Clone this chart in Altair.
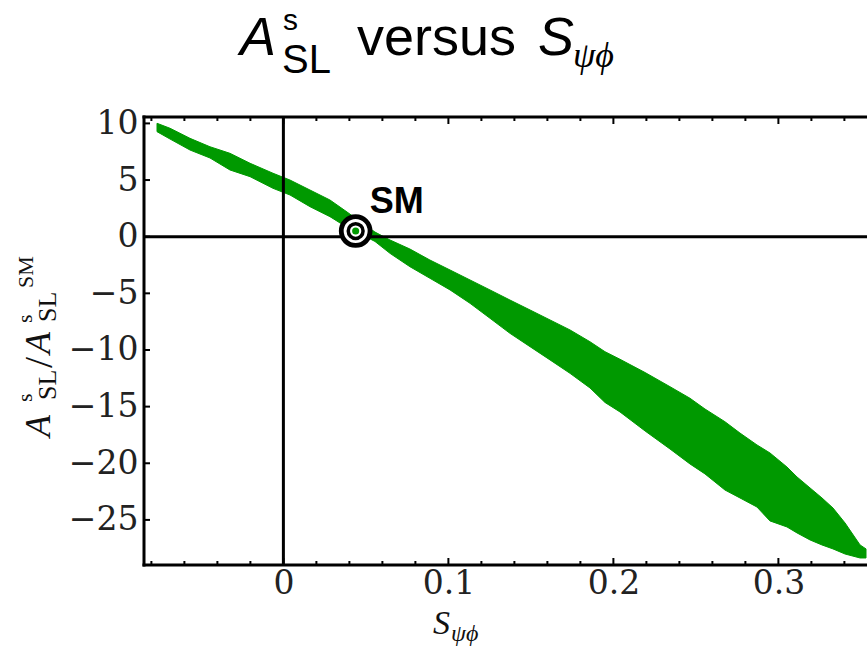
import altair as alt
import pandas as pd

# ---- data ----
band_x = [-0.0766, -0.0687, -0.0566, -0.0445, -0.0324, -0.0202, -0.0063, 0.0040, 0.0161, 0.0282,
          0.0373, 0.0555, 0.0646, 0.0767, 0.0888, 0.1010, 0.1131, 0.1252, 0.1373, 0.1495,
          0.1616, 0.1737, 0.1858, 0.1949, 0.2040, 0.2192, 0.2343, 0.2464, 0.2555, 0.2676,
          0.2767, 0.2870, 0.2949, 0.3052, 0.3113, 0.3192, 0.3264, 0.3331, 0.3404, 0.3495, 0.3531]
band_upper = [10.01, 9.57, 8.68, 7.94, 7.36, 6.48, 5.60, 5.00, 4.12, 3.24,
              2.31, 0.41, -0.29, -1.09, -2.06, -2.94, -3.82, -4.70, -5.59, -6.47,
              -7.35, -8.23, -9.27, -10.15, -10.82, -11.99, -13.24, -14.26, -15.21, -16.33,
              -17.33, -18.38, -19.09, -20.33, -21.21, -22.18, -23.06, -23.95, -25.27, -27.21, -27.56]
band_lower = [9.27, 8.62, 7.65, 6.95, 5.89, 5.30, 4.27, 3.68, 2.65, 1.77,
              0.94, -0.42, -1.47, -2.65, -3.67, -4.70, -5.88, -7.20, -8.53, -9.71,
              -10.88, -12.06, -13.35, -14.63, -15.47, -17.15, -18.74, -20.06, -20.94, -22.36,
              -23.06, -23.86, -25.09, -25.62, -26.15, -26.77, -27.21, -27.56, -28.01, -28.36, -28.36]

sm_x = [0.0438]
sm_y = [0.5]
sm_label = ["SM"]

x_major = [0, 0.1, 0.2, 0.3]
x_minor = [-0.08, -0.06, -0.04, -0.02, 0.02, 0.04, 0.06, 0.08, 0.12, 0.14, 0.16, 0.18,
           0.22, 0.24, 0.26, 0.28, 0.32, 0.34]
y_major = [-25, -20, -15, -10, -5, 0, 5, 10]

# ---- layout ----
PL, PT = 144, 117
W, H = 723, 448
XDOM = [-0.08448, 0.3537]
YDOM = [-28.98, 10.565]
GREEN = "#009900"
LSERIF = "Liberation Serif"
DSERIF = "DejaVu Serif"
SANS = "Liberation Sans"
LW = 3

xs = alt.Scale(domain=XDOM, nice=False, zero=False)
ys = alt.Scale(domain=YDOM, nice=False, zero=False)

AX = alt.Axis(values=x_major, title=None, grid=False, domain=False, ticks=False, tickSize=0,
              labelExpr="datum.value == 0 ? '0' : format(datum.value, '.1f')",
              labelFont=DSERIF, labelFontSize=33, labelColor="#222", labelPadding=2,
              labelBaseline="top", labelFlush=False, labelOverlap=False)
AY = alt.Axis(values=y_major, title=None, grid=False, domain=False, ticks=False, tickSize=0,
              labelExpr="datum.value < 0 ? '\u2212' + format(-datum.value, 'd') : format(datum.value, 'd')",
              labelFont=DSERIF, labelFontSize=33, labelColor="#222", labelPadding=6,
              labelFlush=False, labelOverlap=False)


def X(f):
    return alt.X(f, scale=xs, axis=AX, title=None)


def Y(f):
    return alt.Y(f, scale=ys, axis=AY, title=None)


one = pd.DataFrame({"d": [0]})

band = pd.DataFrame({"x": band_x, "hi": band_upper, "lo": band_lower})
area = alt.Chart(band).mark_area(color=GREEN, stroke=GREEN, strokeWidth=1, interpolate="linear").encode(
    x=X("x:Q"), y=Y("hi:Q"), y2="lo:Q")

zero_v = alt.Chart(pd.DataFrame({"x": [0]})).mark_rule(color="black", strokeWidth=LW).encode(x=X("x:Q"))
zero_h = alt.Chart(pd.DataFrame({"y": [0]})).mark_rule(color="black", strokeWidth=LW).encode(y=Y("y:Q"))

frame_top = alt.Chart(one).mark_rule(color="black", strokeWidth=LW, strokeCap="square").encode(
    x=alt.value(0), x2=alt.value(W), y=alt.value(0))
frame_bottom = alt.Chart(one).mark_rule(color="black", strokeWidth=LW, strokeCap="square").encode(
    x=alt.value(0), x2=alt.value(W), y=alt.value(H))
frame_left = alt.Chart(one).mark_rule(color="black", strokeWidth=LW, strokeCap="square").encode(
    x=alt.value(0), y=alt.value(0), y2=alt.value(H))

xmaj = pd.DataFrame({"v": x_major})
xmin = pd.DataFrame({"v": x_minor})
ymaj = pd.DataFrame({"v": y_major})


def xticks(df, length):
    b = alt.Chart(df).mark_rule(color="black", strokeWidth=2).encode(
        x=X("v:Q"), y=alt.value(H), y2=alt.value(H - length))
    t = alt.Chart(df).mark_rule(color="black", strokeWidth=2).encode(
        x=X("v:Q"), y=alt.value(0), y2=alt.value(length))
    return [b, t]


yt = alt.Chart(ymaj).mark_rule(color="black", strokeWidth=2).encode(
    y=Y("v:Q"), x=alt.value(0), x2=alt.value(6))

sm = pd.DataFrame({"x": sm_x, "y": sm_y, "t": sm_label})
sm_outer = alt.Chart(sm).mark_point(shape="circle", size=830, fill="white", fillOpacity=1,
                                    stroke="black", strokeWidth=4.8, opacity=1).encode(
    x=X("x:Q"), y=Y("y:Q"))
sm_inner = alt.Chart(sm).mark_point(shape="circle", size=219, fill="white", fillOpacity=1,
                                    stroke="black", strokeWidth=3.5, opacity=1).encode(
    x=X("x:Q"), y=Y("y:Q"))
sm_dot = alt.Chart(sm).mark_point(shape="circle", size=50, fill=GREEN, fillOpacity=1,
                                  strokeWidth=0, opacity=1).encode(
    x=X("x:Q"), y=Y("y:Q"))
sm_text = alt.Chart(sm).mark_text(font=SANS, fontWeight="bold", fontSize=36,
                                  align="left", baseline="alphabetic", dx=14, dy=-18,
                                  color="black").encode(
    x=X("x:Q"), y=Y("y:Q"), text="t:N")


def piece(text, px, py, size, font, style="normal", angle=0, color="black"):
    return alt.Chart(pd.DataFrame({"t": [text]})).mark_text(
        align="left", baseline="alphabetic", fontSize=size, font=font, fontStyle=style,
        angle=angle, color=color).encode(
        x=alt.value(px - PL), y=alt.value(py - PT), text="t:N")


title_parts = [
    piece("A", 240, 55, 54, SANS, "italic"),
    piece("s", 283, 30, 30, SANS),
    piece("SL", 282, 73, 40, SANS),
    piece("versus", 357, 55, 54, SANS),
    piece("S", 538, 55, 54, SANS, "italic"),
    piece("\u03c8\u03d5", 573, 67, 36, LSERIF, "italic"),
]

ytitle_parts = [
    piece("A", 50, 437, 36, LSERIF, "italic", 270, "#111"),
    piece("s", 32, 402, 22, LSERIF, "normal", 270, "#111"),
    piece("SL", 56, 400, 26, LSERIF, "normal", 270, "#111"),
    piece("/", 52, 368, 40, LSERIF, "normal", 270, "#111"),
    piece("A", 50, 354, 36, LSERIF, "italic", 270, "#111"),
    piece("s", 32, 323, 22, LSERIF, "normal", 270, "#111"),
    piece("SL", 56, 322, 26, LSERIF, "normal", 270, "#111"),
    piece("SM", 33, 288, 22, LSERIF, "normal", 270, "#111"),
]

xtitle_parts = [
    piece("S", 433, 634, 34, LSERIF, "italic", 0, "#111"),
    piece("\u03c8\u03d5", 451, 641, 24, LSERIF, "italic", 0, "#111"),
]

layers = [area, zero_v, zero_h, frame_top, frame_bottom, frame_left]
layers += xticks(xmaj, 7) + xticks(xmin, 4) + [yt]
layers += [sm_outer, sm_inner, sm_dot, sm_text]
layers += title_parts + ytitle_parts + xtitle_parts

chart = alt.layer(*layers).properties(
    width=W, height=H,
    autosize=alt.AutoSizeParams(type="none"),
    padding={"left": PL, "top": PT, "right": 0, "bottom": 648 - PT - H},
    background="white",
).configure_view(stroke=None)

chart.save("out.html", embed_options={"renderer": "svg", "actions": False})
